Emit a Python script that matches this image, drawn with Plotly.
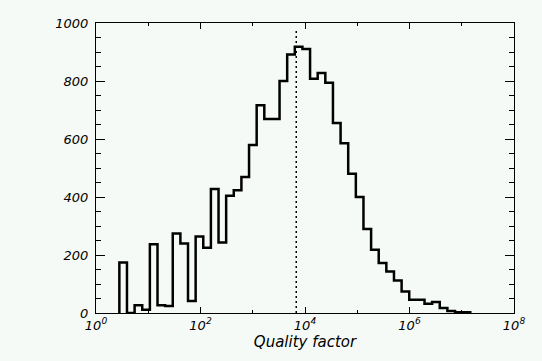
import numpy as np
import plotly.graph_objects as go

# Histogram of quality factor (log-spaced bins, width 0.146 decade)
bin_start_log10 = 0.447
bin_width_log10 = 0.146
counts = [174, 0, 27, 11, 237, 27, 24, 274, 240, 41, 264, 225, 428, 243, 404,
          423, 469, 579, 716, 669, 669, 800, 891, 918, 910, 808, 828, 794, 655,
          585, 480, 400, 290, 218, 172, 143, 112, 74, 46, 46, 32, 38, 17, 7, 3, 3]
median_q = 6800
x_tick_vals = [1, 1e2, 1e4, 1e6, 1e8]
x_tick_text = ["10<sup>0</sup>", "10<sup>2</sup>", "10<sup>4</sup>", "10<sup>6</sup>", "10<sup>8</sup>"]
y_tick_vals = [0, 200, 400, 600, 800, 1000]
x_title = "Quality factor"

n = len(counts)
edges = 10 ** (bin_start_log10 + bin_width_log10 * np.arange(n + 1))
xs = [edges[0]] + list(edges[:-1]) + [edges[-1]]
ys = [0] + list(counts) + [0]

fig = go.Figure()
fig.add_trace(go.Scatter(x=xs, y=ys, mode="lines", line=dict(color="black", width=2.5, shape="hv"),
                         showlegend=False, hoverinfo="skip"))
fig.add_trace(go.Scatter(x=[median_q, median_q], y=[0, 975], mode="lines",
                         line=dict(color="black", width=1.5, dash="2px,3px"),
                         showlegend=False, hoverinfo="skip"))

bg = "#f6faf6"
font = dict(family="DejaVu Sans", size=13, color="black", style="italic")
fig.update_layout(
    width=542, height=361,
    margin=dict(l=96, r=28, t=23, b=48),
    paper_bgcolor=bg, plot_bgcolor=bg,
    font=font,
    xaxis=dict(type="log", range=[0, 8], tickmode="array", tickvals=x_tick_vals, ticktext=x_tick_text,
               ticks="inside", ticklen=6, tickwidth=1, tickcolor="black",
               showline=True, linecolor="black", linewidth=1, mirror="allticks",
               showgrid=False, zeroline=False, tickfont=font, automargin=False,
               minor=dict(tickvals=[10, 1e3, 1e5, 1e7], ticks="inside", ticklen=3,
                          tickcolor="black", showgrid=False),
               title=dict(text=x_title, font=dict(family="DejaVu Sans", size=15, style="italic", color="black"),
                          standoff=2)),
    yaxis=dict(range=[0, 1000], tickmode="array", tickvals=y_tick_vals,
               ticks="inside", ticklen=9, tickwidth=1, tickcolor="black",
               showline=True, linecolor="black", linewidth=1, mirror="allticks",
               showgrid=False, zeroline=False, tickfont=font, ticklabelstandoff=4, automargin=False,
               minor=dict(dtick=50, ticks="inside", ticklen=5, tickcolor="black", showgrid=False)),
)
fig.write_html("out.html", config={"displayModeBar": False},
               post_script="document.body.style.margin='0';document.body.style.background='%s';" % bg)
